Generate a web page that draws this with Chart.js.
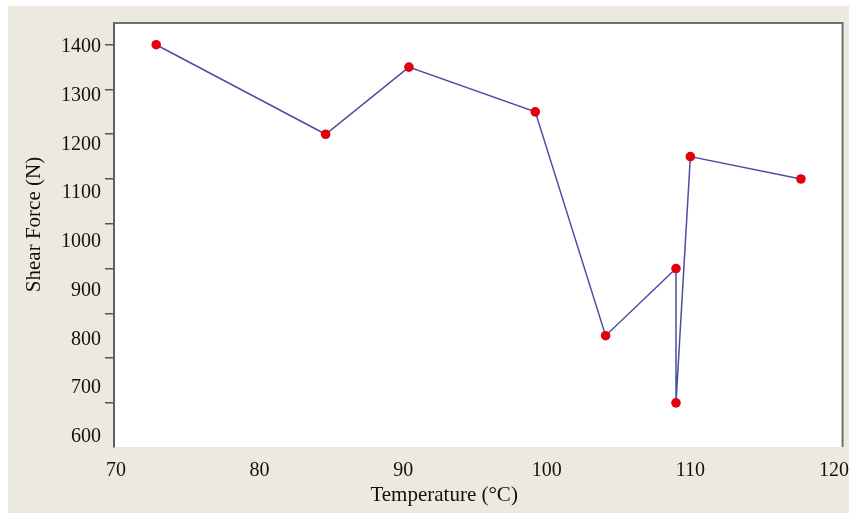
<!DOCTYPE html>
<html>
<head>
<meta charset="utf-8">
<title>Shear Force vs Temperature</title>
<script src="https://cdn.jsdelivr.net/npm/chart.js@4.4.1/dist/chart.umd.min.js"></script>
<style>
  body { margin: 0; background: #ffffff; }
  #panel { position: absolute; left: 8px; top: 6px; width: 841px; height: 507px; background: #ece9e0; }
</style>
</head>
<body>
<div id="panel"><canvas id="myChart" width="841" height="507"></canvas></div>
<script>
// data
const temperature = [72.8, 84.6, 90.4, 99.2, 104.1, 109.0, 109.0, 110.0, 117.7];
const shearForce = [1400, 1200, 1350, 1250, 750, 900, 600, 1150, 1100];
const xTicks = [70, 80, 90, 100, 110, 120];
const yTicks = [600, 700, 800, 900, 1000, 1100, 1200, 1300, 1400];

const points = temperature.map((t, i) => ({ x: t, y: shearForce[i] }));
const nb = n => '\u00a0'.repeat(n);

// white plot area + top/right frame
const plotFrame = {
    id: 'plotFrame',
    beforeDraw(chart) {
        const { ctx, chartArea: a } = chart;
        ctx.save();
        ctx.fillStyle = '#ffffff';
        ctx.fillRect(a.left, a.top, a.right - a.left, a.bottom - a.top);
        ctx.restore();
    },
    afterDatasetsDraw(chart) {
        const { ctx, chartArea: a } = chart;
        ctx.save();
        ctx.strokeStyle = '#6f6f6f';
        ctx.lineWidth = 2;
        ctx.beginPath();
        ctx.moveTo(a.left, a.top);
        ctx.lineTo(a.right, a.top);
        ctx.lineTo(a.right, a.bottom);
        ctx.stroke();
        ctx.restore();
    }
};

Chart.defaults.font.family = "'Liberation Serif', 'Times New Roman', serif";
Chart.defaults.color = '#111111';

const setTicks = list => scale => { scale.ticks = list.map(v => ({ value: v })); };

const config = {
    type: 'scatter',
    data: {
        datasets: [{
            label: 'Shear Force',
            data: points,
            showLine: true,
            borderColor: '#4b4fa3',
            borderWidth: 1.5,
            pointBackgroundColor: '#e3000f',
            pointBorderColor: '#e3000f',
            pointBorderWidth: 0,
            pointRadius: 4.8,
            xAxisID: 'x',
            yAxisID: 'y'
        }]
    },
    options: {
        responsive: false,
        animation: false,
        layout: { padding: { left: 0, right: 4, top: 17, bottom: 0 } },
        plugins: { legend: { display: false }, tooltip: { enabled: false } },
        scales: {
            x: {
                type: 'linear',
                min: 69.86,
                max: 120.6,
                afterBuildTicks: setTicks(xTicks),
                afterFit: s => { s.height = 66; },
                grid: { display: true, drawOnChartArea: false, drawTicks: true, tickLength: 12, color: 'rgba(0,0,0,0)' },
                border: { display: false },
                ticks: { padding: 0, font: { size: 20 }, callback: v => String(v) },
                title: { display: true, text: 'Temperature (\u00b0C)' + nb(13), font: { size: 21 }, padding: { top: 0, bottom: 5 } }
            },
            // tick marks follow this scale (data scale)
            y: {
                type: 'linear',
                position: 'left',
                weight: 0,
                min: 501.4,
                max: 1448.5,
                afterBuildTicks: setTicks(yTicks),
                afterFit: s => { s.width = 10; },
                ticks: { display: false },
                grid: { drawOnChartArea: false, drawTicks: true, tickLength: 9, color: '#555555', lineWidth: 1.5 },
                border: { display: true, color: '#5f5f5f', width: 2 }
            },
            // tick labels sit a little off the marks in the original
            yLabels: {
                type: 'linear',
                position: 'left',
                weight: 1,
                min: 579.5,
                max: 1448.6,
                afterBuildTicks: setTicks(yTicks),
                afterFit: s => { s.width = 96; },
                grid: { display: false, drawTicks: false },
                border: { display: false },
                ticks: { padding: 3, font: { size: 20 }, callback: v => String(v) },
                title: { display: true, text: nb(4) + 'Shear Force (N)', font: { size: 21 }, padding: { top: 14, bottom: 0 } }
            }
        }
    },
    plugins: [plotFrame]
};

new Chart(document.getElementById('myChart'), config);
</script>
</body>
</html>
